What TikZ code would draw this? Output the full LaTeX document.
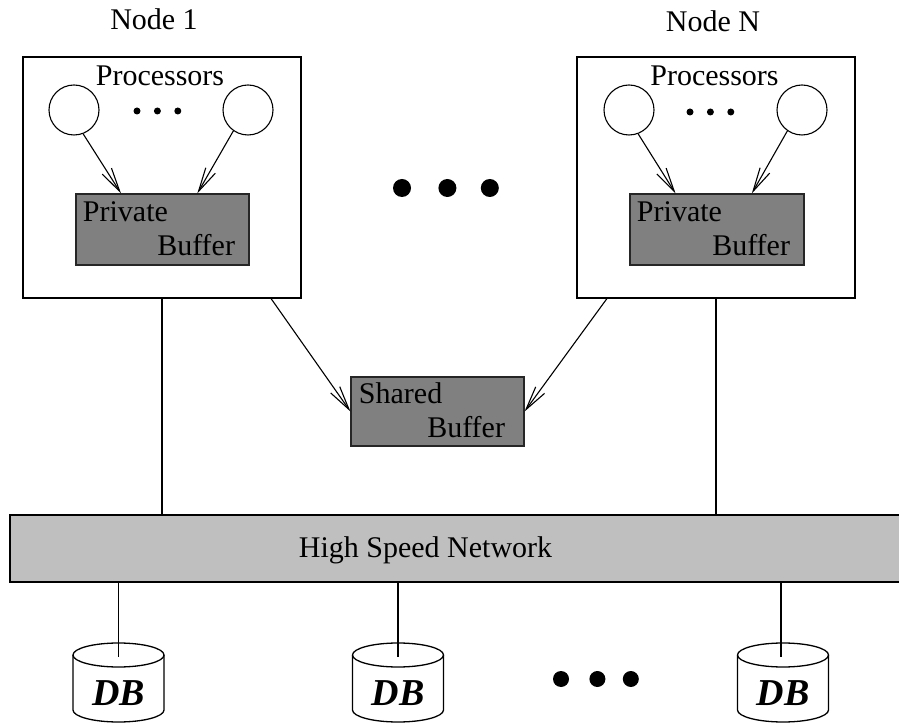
\documentclass[tikz,border=0pt]{standalone}
\usepackage{fontspec}
\setmainfont{Liberation Serif}
\usetikzlibrary{arrows.meta,positioning}
\def\dbdisk#1{%
  \draw[wire] (#1,68) ellipse [x radius=45.5, y radius=12];
  \draw[wire] (#1-45.5,68) -- (#1-45.5,13) arc[start angle=180, end angle=360, x radius=45.5, y radius=12] -- (#1+45.5,68);}

\begin{document}
\begin{tikzpicture}[x=1pt,y=1pt,font=\fontsize{30}{36}\selectfont]
\tikzstyle{frame}=[rectangle, draw=black, line width=1.4pt, minimum width=278pt, minimum height=241pt]
\tikzstyle{proc}=[circle, draw=black, line width=1.1pt, minimum size=50pt, inner sep=0pt]
\tikzstyle{buffer}=[rectangle, draw=black!85, line width=1.1pt, fill=black!50, minimum width=173pt, minimum height=71pt]
\tikzstyle{connect}=[-{Straight Barb[length=24pt,width=11pt]}, line width=1.1pt]
\tikzstyle{wire}=[line width=1.3pt]
\tikzstyle{bigdot}=[circle, fill=black, minimum size=18pt, inner sep=0pt]
\tikzstyle{smalldot}=[circle, fill=black, minimum size=7pt, inner sep=0pt]
\tikzstyle{dbtext}=[font=\fontsize{38}{44}\selectfont\bfseries\itshape]
\useasboundingbox (0,0) rectangle (899,723);

% node 1
\node[frame] (n1) at (162,545.5) {};
\node[anchor=base] (l1) at (154,693) {Node 1};
\node[anchor=base] (t1) at (160,637) {Processors};
\node[proc] (p11) at (74,613) {};
\node[proc] (p12) at (248,613) {};
\node[smalldot] (s11) at (137,612) {};
\node[smalldot] (s12) [right=13pt of s11] {};
\node[smalldot] (s13) [right=13pt of s12] {};
\node[buffer] (b1) at (162.5,493.5) {};
\node[anchor=base west] (pv1) at ([xshift=4pt,yshift=-28pt]b1.north west) {Private};
\node[anchor=base east] (bf1) at ([xshift=-11pt,yshift=10pt]b1.south east) {Buffer};
\draw[connect] (p11.-69) -- (b1.139.5);
\draw[connect] (p12.235) -- (b1.46);

% node N
\node[frame] (nN) at (716,545.5) {};
\node[anchor=base] (lN) at (713,691) {Node N};
\node[anchor=base] (tN) at (714.5,637) {Processors};
\node[proc] (pN1) at (629,613) {};
\node[proc] (pN2) at (802,613) {};
\node[smalldot] (sN1) at (690,611) {};
\node[smalldot] (sN2) [right=13pt of sN1] {};
\node[smalldot] (sN3) [right=13pt of sN2] {};
\node[buffer, minimum width=174pt] (bN) at (717,493.5) {};
\node[anchor=base west] (pvN) at ([xshift=4pt,yshift=-28pt]bN.north west) {Private};
\node[anchor=base east] (bfN) at ([xshift=-11pt,yshift=10pt]bN.south east) {Buffer};
\draw[connect] (pN1.-69) -- (bN.139.5);
\draw[connect] (pN2.235) -- (bN.46);

% more nodes
\node[bigdot] (m1) at (402,535) {};
\node[bigdot] (m2) [right=27pt of m1] {};
\node[bigdot] (m3) [right=24pt of m2] {};

% shared buffer
\node[buffer, minimum height=69pt] (sb) at (437.5,311.5) {};
\node[anchor=base west] (sh) at ([xshift=5pt,yshift=-27pt]sb.north west) {Shared};
\node[anchor=base east] (sbf) at ([xshift=-16pt,yshift=9pt]sb.south east) {Buffer};
\draw[connect] (n1.-48.9) -- (sb.west);
\draw[connect] (nN.228.8) -- (sb.east);

% network
\node[rectangle, draw=black, line width=1.3pt, fill=black!25, minimum width=900pt, minimum height=67pt] (net) at (460,174.5) {};
\node[anchor=base] (nt) at (425.5,165) {High Speed Network};
\draw[wire] (n1.south) -- (n1.south |- net.north);
\draw[wire] (nN.south) -- (nN.south |- net.north);

% disks
\dbdisk{118.5}
\dbdisk{398}
\dbdisk{783}
\node[dbtext, anchor=base] (d1) at (118.5,18) {DB};
\node[dbtext, anchor=base] (d2) at (398,18) {DB};
\node[dbtext, anchor=base] (d3) at (783,18) {DB};
\coordinate (c1) at (118.5,66);
\coordinate (c2) at (398,66);
\coordinate (c3) at (781,66);
\draw[wire] (c1 |- net.south) -- (c1);
\draw[wire] (c2 |- net.south) -- (c2);
\draw[wire] (c3 |- net.south) -- (c3);
\node[bigdot, minimum size=16pt] (e1) at (561,44) {};
\node[bigdot, minimum size=16pt] (e2) [right=20pt of e1] {};
\node[bigdot, minimum size=16pt] (e3) [right=17pt of e2] {};
\end{tikzpicture}
\end{document}
